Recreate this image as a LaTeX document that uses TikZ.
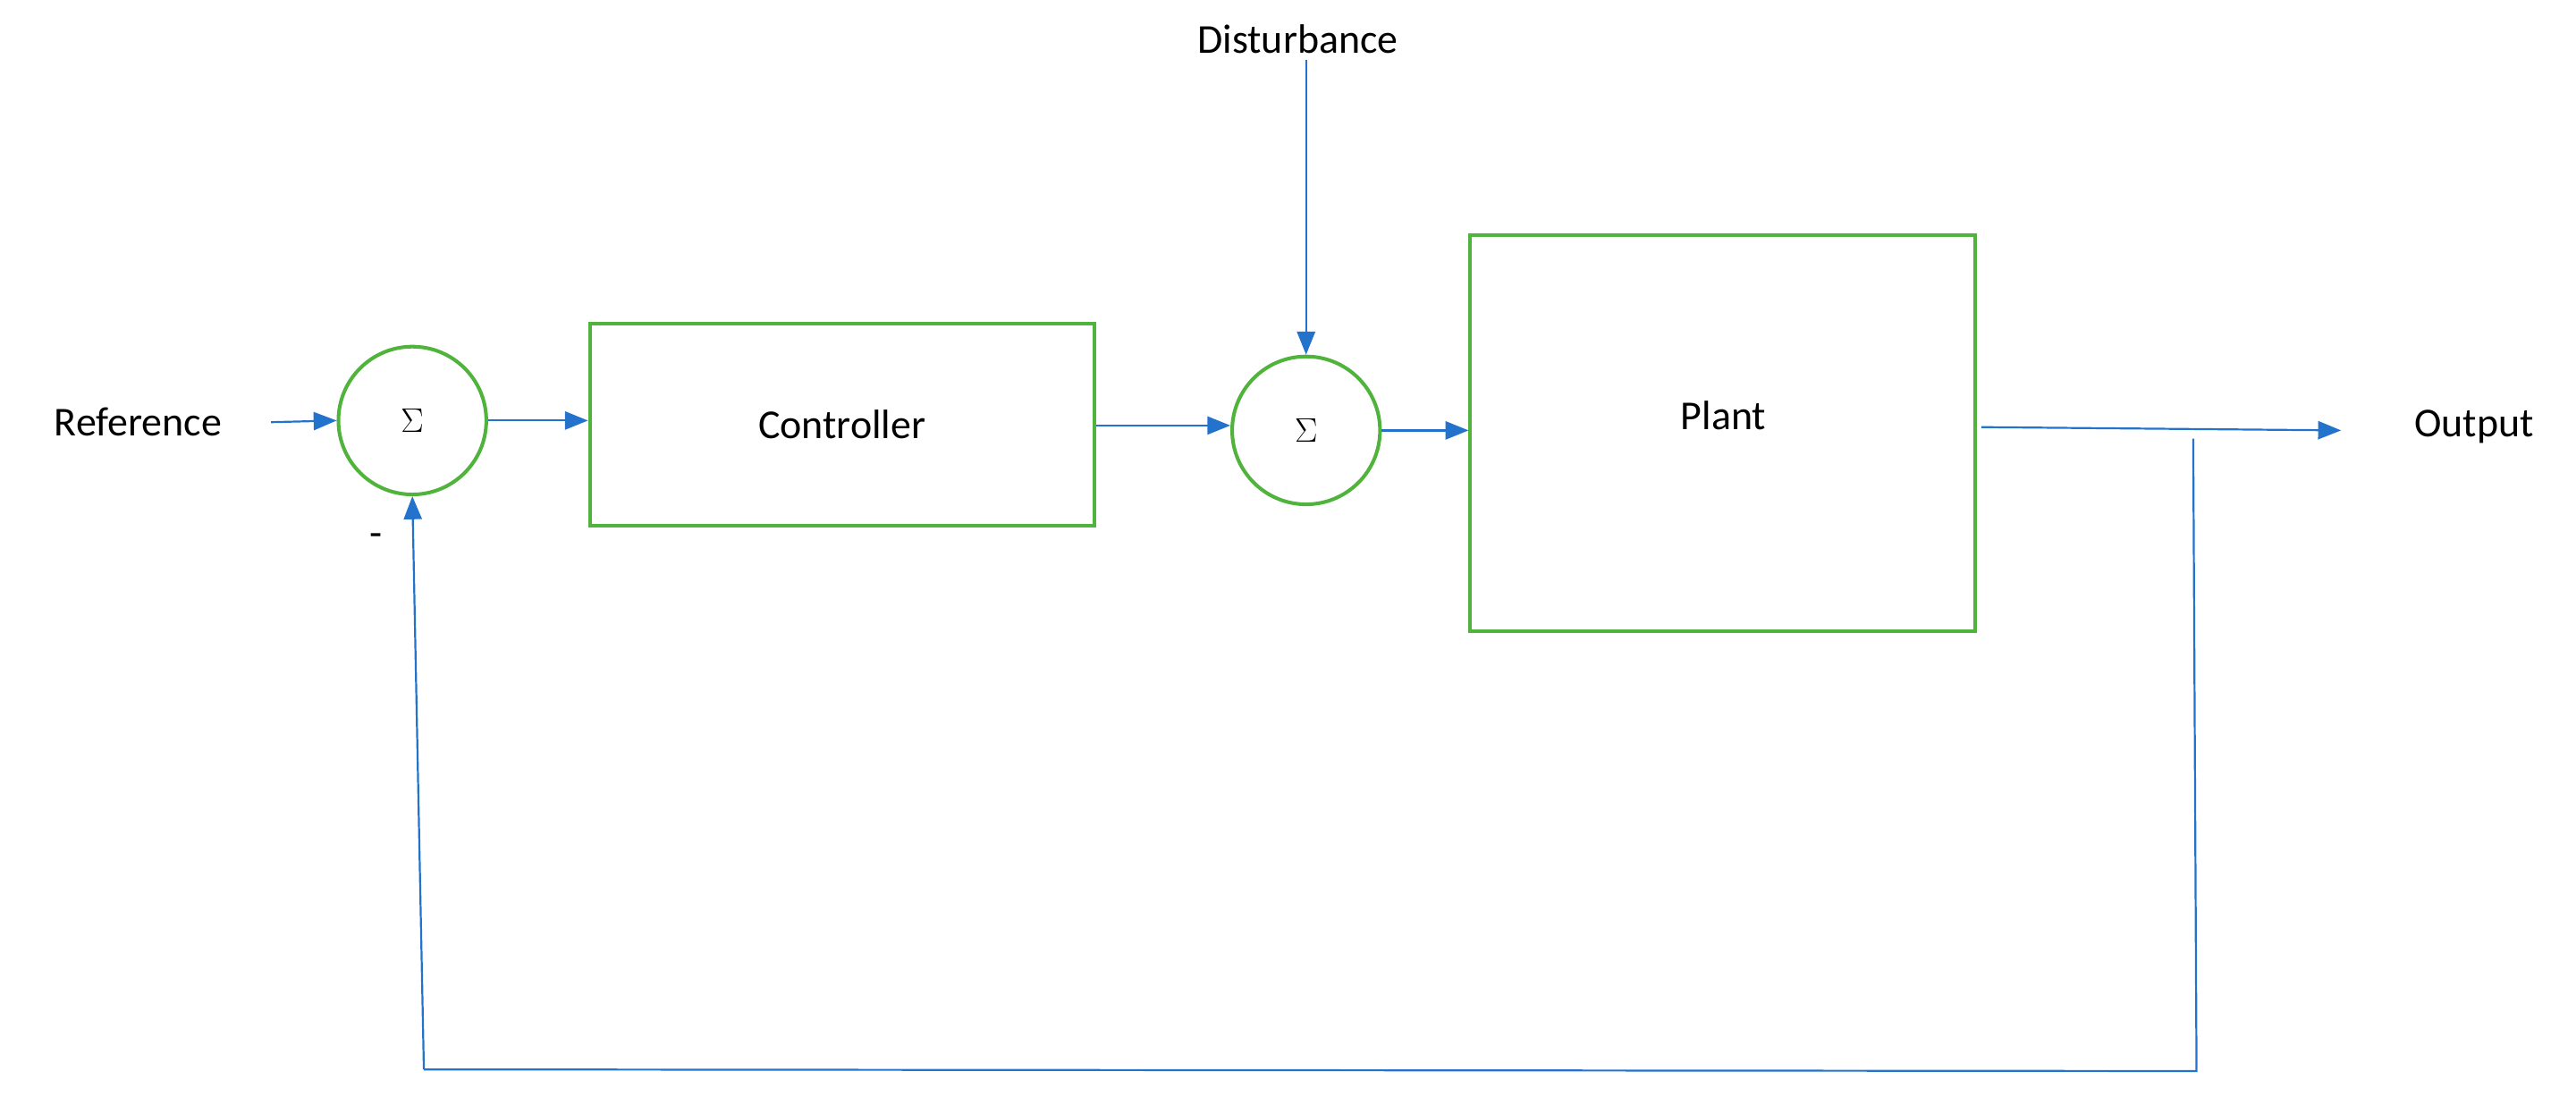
\documentclass[tikz,border=0pt]{standalone}
\usepackage{fontspec}
\setmainfont{Carlito}
\usetikzlibrary{arrows.meta}
\definecolor{gr}{RGB}{80,180,60}
\definecolor{bl}{RGB}{35,115,205}
\begin{document}
\begin{tikzpicture}[x=1pt,y=-1pt,
 blk/.style={draw=gr,line width=2.2pt,inner sep=0},
 sum/.style={circle,draw=gr,line width=2.2pt,minimum size=90pt,inner sep=0,font=\fontsize{20}{24}\selectfont},
 lab/.style={font=\fontsize{25}{30}\selectfont},
 ar/.style={draw=bl,line width=1.2pt,-{Triangle[length=14pt,width=11pt]}},
 ln/.style={draw=bl,line width=1.2pt}]
\useasboundingbox (0,0) rectangle (1568,678);
\node[lab] (ref) at (84,257) {Reference};
\node[sum] (s1) at (251,256) {$\Sigma$};
\node[blk,minimum width=307pt,minimum height=123pt,lab] (ctl) at (512.5,258.5) {Controller};
\node[sum] (s2) at (795,262) {$\Sigma$};
\node[lab] (dist) at (790,24) {Disturbance};
\node[blk,minimum width=307pt,minimum height=241pt] (pl) at (1048.5,263.5) {};
\node[lab] (pt) at (1049,253) {Plant};
\node[lab] (out) at (1506,260) {Output};
\node[lab] (minus) at (229,329) {-};
\coordinate (o1) at (1206,260);
\coordinate (o2) at (1425,262);
\coordinate (t) at (1335,267);
\coordinate (b1) at (1337,652);
\coordinate (b2) at (258,651);
\draw[ar] (165,257) -- (s1.west);
\draw[ar] (s1.east) -- (ctl.west |- s1.east);
\draw[ar] (ctl.east |- 0,259) -- (s2.west |- 0,259);
\draw[ar] (dist.south -| s2.north) -- (s2.north);
\draw[ar] (s2.east) -- (pl.west |- s2.east);
\draw[ar] (o1) -- (o2);
\draw[ln] (t) -- (b1) -- (b2);
\draw[ar] (b2) -- (s1.south);
\end{tikzpicture}
\end{document}
